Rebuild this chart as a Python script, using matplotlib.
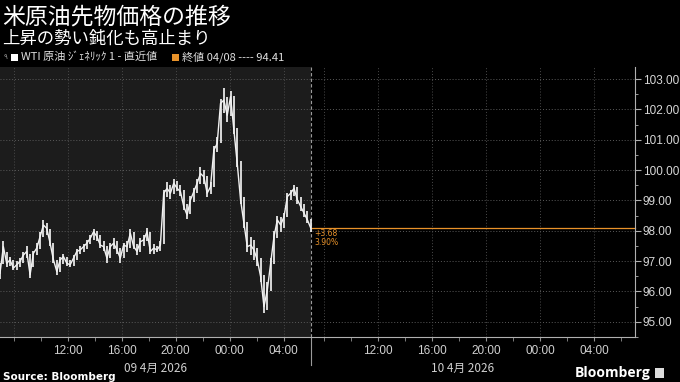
import numpy as np
import matplotlib
matplotlib.use("Agg")
import matplotlib.pyplot as plt
from matplotlib.patches import Rectangle

plt.rcParams['font.family'] = ['Noto Sans CJK JP', 'DejaVu Sans']

# ---------------- data ----------------
title = "米原油先物価格の推移"
subtitle = "上昇の勢い鈍化も高止まり"
series_label = "WTI 原油 ｼﾞｪﾈﾘｯｸ 1 - 直近値"
ref_label = "終値 04/08 ---- 94.41"
prev_close = 94.41
last_change = "+3.68"
last_pct = "3.90%"

# WTI generic 1st, 15-minute bars over the 09 Apr session (07:00 -> 06:00 JST)
closes = [
    96.60, 97.48, 96.93, 97.04, 96.77, 96.88, 96.99, 97.20, 97.32, 96.55,
    97.26, 97.43, 97.81, 98.19, 98.08, 97.59, 97.04, 96.66, 97.04, 97.15,
    96.93, 96.88, 97.10, 97.32, 97.37, 97.48, 97.59, 97.75, 97.97, 97.81,
    97.53, 97.48, 97.10, 97.48, 97.59, 97.37, 97.10, 97.53, 97.48, 97.92,
    97.48, 97.32, 97.64, 97.70, 97.97, 97.32, 97.43, 97.37, 97.53, 99.24,
    99.40, 99.24, 99.57, 99.40, 99.29, 98.80, 98.52, 99.02, 99.29, 99.57,
    99.89, 99.78, 99.24, 99.45, 100.66, 100.88, 102.20, 102.31, 101.81, 102.42,
    101.32, 100.22, 99.02, 98.25, 97.48, 97.53, 97.37, 97.04, 96.49, 95.50,
    96.05, 96.93, 97.81, 98.36, 98.19, 98.47, 99.13, 99.24, 99.40, 99.02,
    98.80, 98.58, 98.36, 98.09,
]
highs = [
    96.95, 97.65, 97.30, 97.15, 97.05, 97.00, 97.10, 97.30, 97.50, 97.25,
    97.35, 97.60, 97.95, 98.35, 98.25, 98.05, 97.60, 97.05, 97.15, 97.25,
    97.15, 97.05, 97.20, 97.40, 97.50, 97.55, 97.70, 97.85, 98.05, 98.00,
    97.85, 97.65, 97.50, 97.60, 97.75, 97.65, 97.45, 97.60, 97.65, 98.05,
    97.95, 97.55, 97.75, 97.85, 98.10, 97.95, 97.55, 97.50, 97.65, 99.35,
    99.60, 99.50, 99.70, 99.65, 99.50, 99.35, 98.90, 99.15, 99.40, 99.70,
    100.10, 100.00, 99.80, 99.60, 100.80, 101.10, 102.35, 102.70, 102.40, 102.60,
    102.45, 101.40, 100.30, 99.10, 98.30, 97.80, 97.70, 97.45, 97.10, 96.55,
    96.30, 97.10, 98.00, 98.50, 98.45, 98.60, 99.25, 99.35, 99.50, 99.45,
    99.10, 98.90, 98.65, 98.40,
]
lows = [
    96.40, 96.90, 96.80, 96.85, 96.70, 96.72, 96.80, 96.95, 97.10, 96.45,
    96.80, 97.20, 97.40, 97.80, 97.85, 97.50, 96.95, 96.55, 96.65, 96.90,
    96.85, 96.80, 96.85, 97.05, 97.25, 97.30, 97.40, 97.55, 97.70, 97.65,
    97.45, 97.35, 96.95, 97.10, 97.40, 97.25, 96.95, 97.10, 97.30, 97.45,
    97.40, 97.20, 97.30, 97.50, 97.65, 97.25, 97.25, 97.30, 97.35, 97.55,
    99.10, 99.05, 99.20, 99.30, 99.15, 98.70, 98.40, 98.55, 98.95, 99.25,
    99.55, 99.55, 99.10, 99.20, 99.45, 100.60, 100.90, 101.90, 101.60, 101.80,
    101.20, 100.10, 98.90, 98.10, 97.30, 97.20, 97.05, 96.85, 96.30, 95.30,
    95.40, 96.00, 96.90, 97.75, 97.95, 98.10, 98.45, 99.00, 99.15, 98.90,
    98.65, 98.45, 98.25, 97.95,
]
session_len = 23.0          # hours per trading session (07:00 -> 06:00)
total_len = 47.0            # hours shown on the axis
time_labels = ["12:00", "16:00", "20:00", "00:00", "04:00"]
time_label_hours = [5, 9, 13, 17, 21]          # hours after session open
day_labels = ["09 4月 2026", "10 4月 2026"]
y_ticks = [95, 96, 97, 98, 99, 100, 101, 102, 103]

# ---------------- figure ----------------
W, H = 680, 382
fig = plt.figure(figsize=(W / 100, H / 100), dpi=100, facecolor="black")
ax_left, ax_bottom, ax_right, ax_top = 0, 337, 635, 67
ax = fig.add_axes([ax_left / W, 1 - ax_bottom / H, (ax_right - ax_left) / W, (ax_bottom - ax_top) / H])
ax.set_facecolor("black")
ax.set_xlim(0, total_len)
ax.set_ylim(94.5, 103.4)

# shaded current session
ax.axvspan(0, session_len, color="#1c1c1c", zorder=0, lw=0)

# grid
for y in y_ticks:
    ax.axhline(y, color="#5a5a5a", lw=0.7, ls=(0, (1, 2)), zorder=1)
grid_x = [1, 5, 9, 13, 17, 21] + [session_len + h for h in [1, 5, 9, 13, 17, 21]]
for x in grid_x:
    ax.axvline(x, color="#4a4a4a", lw=0.7, ls=(0, (1, 2)), zorder=1)

# price bars + close line
t = np.linspace(0, session_len, len(closes))
ax.vlines(t, lows, highs, color="#e6e6e6", lw=1.3, zorder=3)
ax.plot(t, closes, color="#f2f2f2", lw=1.0, zorder=3)

# session divider
ax.axvline(session_len, color="#9a9a9a", lw=0.8, ls=(0, (3, 2)), zorder=2)
ax.plot([session_len, session_len], [94.5, 93.57], color="#9a9a9a", lw=0.8, clip_on=False)

# last-change reference line
last_val = closes[-1]
ax.plot([session_len, total_len], [last_val, last_val], color="#e8922a", lw=0.9, zorder=2, clip_on=False)
ax.text(session_len + 0.25, last_val - 0.04, last_change, color="#e8922a", fontsize=5.5,
        va="top", ha="left", family=["DejaVu Sans"])
ax.text(session_len + 0.25, last_val - 0.33, last_pct, color="#e8922a", fontsize=5.5,
        va="top", ha="left", family=["DejaVu Sans"])

# axes styling
for s in ["left", "top"]:
    ax.spines[s].set_visible(False)
for s in ["right", "bottom"]:
    ax.spines[s].set_color("#b0b0b0")
    ax.spines[s].set_linewidth(0.8)

ax.yaxis.tick_right()
ax.set_yticks(y_ticks)
ax.set_yticklabels([f"{v:.2f}" for v in y_ticks])
ax.set_yticks(np.arange(94.5, 103.5, 0.5), minor=True)
ax.tick_params(axis="y", which="both", colors="#b0b0b0", labelcolor="#d8d8d8",
               labelsize=8.5, direction="out", pad=1.5)
ax.tick_params(axis="y", which="major", length=4, width=0.8)
ax.tick_params(axis="y", which="minor", length=2, width=0.6)

xt = time_label_hours + [session_len + h for h in time_label_hours]
ax.set_xticks(xt)
ax.set_xticklabels(time_labels * 2)
ax.set_xticks([1, 3, 7, 11, 15, 19, 23] + [session_len + h for h in [1, 3, 7, 11, 15, 19, 23]], minor=True)
ax.tick_params(axis="x", which="both", colors="#909090", labelcolor="#d0d0d0",
               labelsize=8.5, direction="out", pad=3)
ax.tick_params(axis="x", which="major", length=3, width=0.8)
ax.tick_params(axis="x", which="minor", length=3, width=0.6)
for lab in ax.get_xticklabels():
    lab.set_family(["Liberation Sans", "DejaVu Sans"])
for lab in ax.get_yticklabels():
    lab.set_family(["Liberation Sans", "DejaVu Sans"])

# day labels
def fx(h):
    return (ax_left + (ax_right - ax_left) * h / total_len) / W

fig.text(fx(session_len / 2), 1 - 368 / H, day_labels[0], color="#d0d0d0", fontsize=8.5,
         ha="center", va="center")
fig.text(fx(session_len + 11.2), 1 - 368 / H, day_labels[1], color="#d0d0d0", fontsize=8.5,
         ha="center", va="center")

# titles
fig.text(2 / W, 1 - 17 / H, title, color="white", fontsize=16.5, ha="left", va="center")
fig.text(2 / W, 1 - 39 / H, subtitle, color="white", fontsize=12.5, ha="left", va="center")

# legend row
ly = 1 - 57 / H
fig.patches.append(Rectangle((11 / W, 1 - 61 / H), 7 / W, 7 / H, transform=fig.transFigure,
                             facecolor="white", edgecolor="none"))
fig.text(5 / W, ly, "٩", color="#999999", fontsize=5, ha="center", va="center", family=["DejaVu Sans"])
fig.text(21 / W, ly, series_label, color="#e0e0e0", fontsize=8, ha="left", va="center")
fig.patches.append(Rectangle((172 / W, 1 - 61 / H), 7 / W, 7 / H, transform=fig.transFigure,
                             facecolor="#e8922a", edgecolor="none"))
fig.text(182 / W, ly, ref_label, color="#e0e0e0", fontsize=8, ha="left", va="center")

# footer
fig.text(3 / W, 1 - 377 / H, "Source: Bloomberg", color="white", fontsize=7.5,
         fontweight="bold", ha="left", va="center", family=["DejaVu Sans"])
fig.text(650 / W, 1 - 373 / H, "Bloomberg", color="white", fontsize=10,
         fontweight="bold", ha="right", va="center", family=["Open Sans", "DejaVu Sans"])
fig.patches.append(Rectangle((655 / W, 1 - 378 / H), 9 / W, 10 / H, transform=fig.transFigure,
                             facecolor="#dddddd", edgecolor="none"))

fig.savefig("out.png", dpi=100, facecolor="black")
